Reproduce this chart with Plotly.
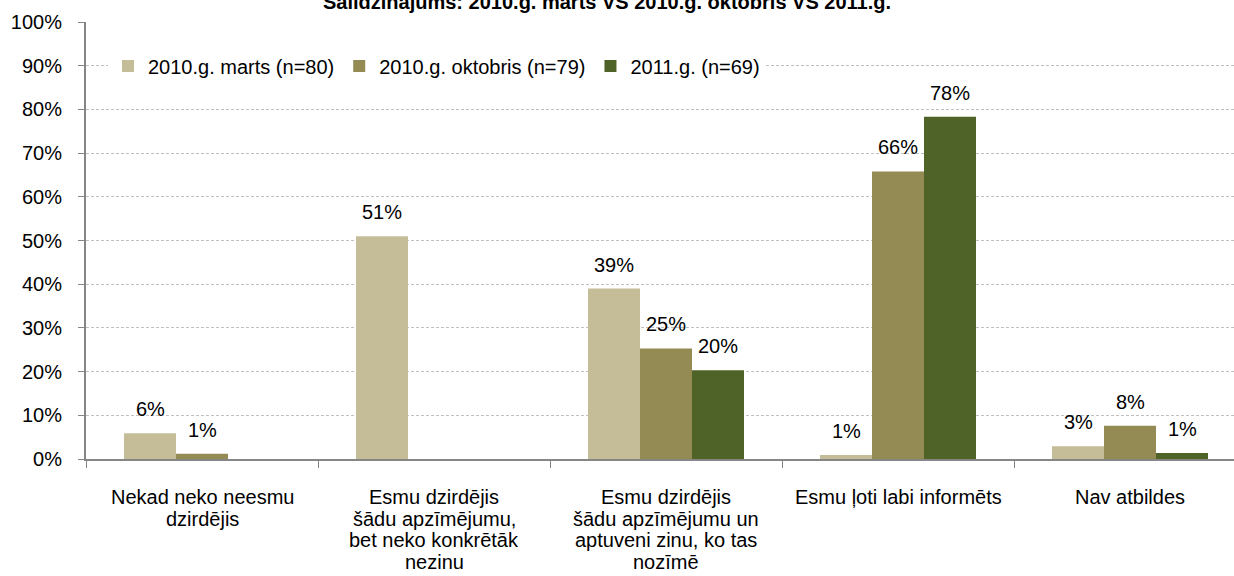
import plotly.graph_objects as go

label_lines = [
    ["Nekad neko neesmu", "dzirdējis"],
    ["Esmu dzirdējis", "šādu apzīmējumu,", "bet neko konkrētāk", "nezinu"],
    ["Esmu dzirdējis", "šādu apzīmējumu un", "aptuveni zinu, ko tas", "nozīmē"],
    ["Esmu ļoti labi informēts"],
    ["Nav atbildes"],
]
categories = [" ".join(l) for l in label_lines]

series_names = ["2010.g. marts (n=80)", "2010.g. oktobris (n=79)", "2011.g. (n=69)"]
marts = [5.9, 51.0, 39.0, 0.9, 2.9]
oktobris = [1.2, None, 25.3, 65.8, 7.6]
g2011 = [None, None, 20.3, 78.3, 1.4]
series_values = [marts, oktobris, g2011]
colors = ["#C4BD97", "#948A54", "#4F6228"]

title_text = "Salīdzinājums: 2010.g. marts VS 2010.g. oktobris VS 2011.g."
y_ticks = list(range(0, 101, 10))
y_tick_labels = [f"{v}%" for v in y_ticks]

FONT = "Liberation Sans, Arial, sans-serif"
W, H = 1234, 576
ML, MT, MB, MR = 86, 22, 117, 0
plot_w = W - ML - MR
plot_h = H - MT - MB
cat_px = 232.0
span = plot_w / cat_px

fig = go.Figure()
for name, vals, col in zip(series_names, series_values, colors):
    fig.add_trace(go.Bar(
        x=categories, y=vals, name=name,
        marker=dict(color=col, line=dict(width=0)),
    ))

bargap = 1 - 156 / cat_px
slot = (1 - bargap) / 3
annotations = []
for i, vals in enumerate(series_values):
    for j, v in enumerate(vals):
        if v is None:
            continue
        annotations.append(dict(
            x=j + (i - 1) * slot, y=v, xref="x", yref="y",
            text=f"{round(v):.0f}%", showarrow=False,
            yanchor="bottom", xanchor="center", yshift=11,
            font=dict(family=FONT, size=20, color="#000000"),
        ))

# category labels (multi-line, tight spacing)
for j, lines in enumerate(label_lines):
    for k, line in enumerate(lines):
        annotations.append(dict(
            x=j, y=0, xref="x", yref="paper",
            text=line, showarrow=False,
            yanchor="middle", xanchor="center",
            yshift=-(38 + 21.7 * k),
            font=dict(family=FONT, size=20, color="#000000"),
        ))

annotations.append(dict(
    x=(607 - ML) / plot_w, y=(plot_h + MT - 2) / plot_h, xref="paper", yref="paper",
    text=f"<b>{title_text}</b>", showarrow=False,
    yanchor="middle", xanchor="center",
    font=dict(family=FONT, size=20, color="#000000"),
))

fig.update_layout(
    width=W, height=H,
    margin=dict(l=ML, r=MR, t=MT, b=MB, pad=0),
    paper_bgcolor="white", plot_bgcolor="white",
    barmode="group", bargap=bargap, bargroupgap=0,
    font=dict(family=FONT, size=20, color="#000000"),
    showlegend=True,
    legend=dict(
        orientation="h", x=(108 - ML) / plot_w, xanchor="left",
        y=(plot_h + MT - 66) / plot_h, yanchor="middle",
        bgcolor="white", font=dict(family=FONT, size=20, color="#000000"),
        itemwidth=30, tracegroupgap=0, traceorder="normal",
    ),
    annotations=annotations,
)
fig.update_xaxes(
    type="category", range=[-0.5, -0.5 + span],
    showline=True, linecolor="#868686", linewidth=2,
    ticks="outside", ticklen=7, tickcolor="#868686", tickwidth=1,
    tickson="boundaries", showticklabels=False, showgrid=False,
    zeroline=False,
)
fig.update_yaxes(
    range=[0, 100], tickmode="array", tickvals=y_ticks, ticktext=y_tick_labels,
    showline=True, linecolor="#868686", linewidth=2,
    ticks="outside", ticklen=6, tickcolor="#868686", tickwidth=1,
    showgrid=True, gridcolor="#bfbfbf", gridwidth=1, griddash="3px,2px",
    zeroline=False, ticklabelstandoff=12,
    tickfont=dict(family=FONT, size=20, color="#000000"),
)

fig.write_html(
    "out.html",
    config={"displayModeBar": False},
    post_script="document.body.style.margin='0';document.body.style.overflow='hidden';",
)
